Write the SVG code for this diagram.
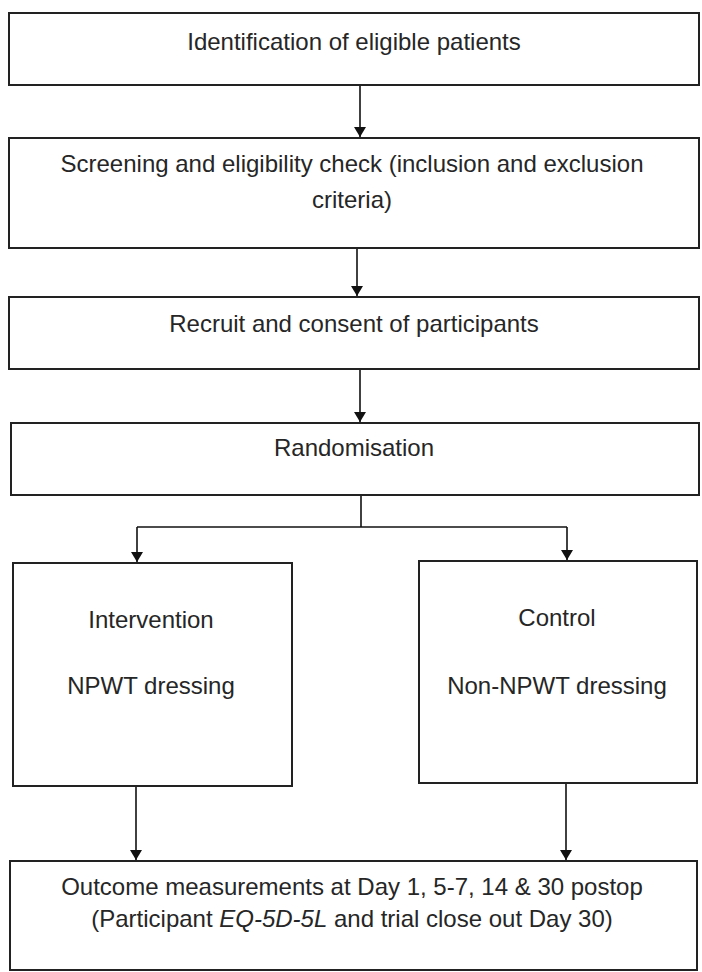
<svg xmlns="http://www.w3.org/2000/svg" width="702" height="972" viewBox="0 0 702 972">
  <defs>
    <marker id="arrow" viewBox="0 0 10 12" refX="10" refY="6" markerWidth="10" markerHeight="12" markerUnits="userSpaceOnUse" orient="auto">
      <path d="M0,0 L10,6 L0,12 Z" fill="#111"/>
    </marker>
    <style>
      .box { fill: #ffffff; stroke: #222222; stroke-width: 2; }
      .lbl { font-family: "Liberation Sans", Arial, sans-serif; font-size: 24px; fill: #262626; text-anchor: middle; }
      .conn { fill: none; stroke: #111111; stroke-width: 1.6; }
    </style>
  </defs>
  <rect x="0" y="0" width="702" height="972" fill="#ffffff"/>

  <g id="identification">
    <rect class="box" x="9" y="13" width="690" height="72"/>
    <text class="lbl" x="354" y="50">Identification of eligible patients</text>
  </g>

  <g id="screening">
    <rect class="box" x="9" y="138" width="690" height="110"/>
    <text class="lbl" x="352" y="172">Screening and eligibility check (inclusion and exclusion</text>
    <text class="lbl" x="352" y="208">criteria)</text>
  </g>

  <g id="recruit">
    <rect class="box" x="9" y="297" width="690" height="72"/>
    <text class="lbl" x="354" y="332">Recruit and consent of participants</text>
  </g>

  <g id="randomisation">
    <rect class="box" x="11" y="423" width="688" height="72"/>
    <text class="lbl" x="354" y="456">Randomisation</text>
  </g>

  <g id="intervention">
    <rect class="box" x="13" y="563" width="279" height="223"/>
    <text class="lbl" x="151" y="628">Intervention</text>
    <text class="lbl" x="151" y="694">NPWT dressing</text>
  </g>

  <g id="control">
    <rect class="box" x="419" y="561" width="278" height="222"/>
    <text class="lbl" x="557" y="626">Control</text>
    <text class="lbl" x="557" y="694">Non-NPWT dressing</text>
  </g>

  <g id="outcome">
    <rect class="box" x="10" y="861" width="687" height="109"/>
    <text class="lbl" x="352" y="895">Outcome measurements at Day 1, 5-7, 14 &amp; 30 postop</text>
    <text class="lbl" x="352" y="927">(Participant <tspan font-style="italic">EQ-5D-5L</tspan> and trial close out Day 30)</text>
  </g>

  <g id="connectors">
    <line class="conn" x1="360" y1="86" x2="360" y2="137" marker-end="url(#arrow)"/>
    <line class="conn" x1="357" y1="249" x2="357" y2="296" marker-end="url(#arrow)"/>
    <line class="conn" x1="360" y1="370" x2="360" y2="422" marker-end="url(#arrow)"/>
    <polyline class="conn" points="361,496 361,527"/>
    <polyline class="conn" points="137,527 567,527"/>
    <line class="conn" x1="137" y1="527" x2="137" y2="562" marker-end="url(#arrow)"/>
    <line class="conn" x1="567" y1="527" x2="567" y2="560" marker-end="url(#arrow)"/>
    <line class="conn" x1="136" y1="787" x2="136" y2="860" marker-end="url(#arrow)"/>
    <line class="conn" x1="566" y1="784" x2="566" y2="860" marker-end="url(#arrow)"/>
  </g>
</svg>
